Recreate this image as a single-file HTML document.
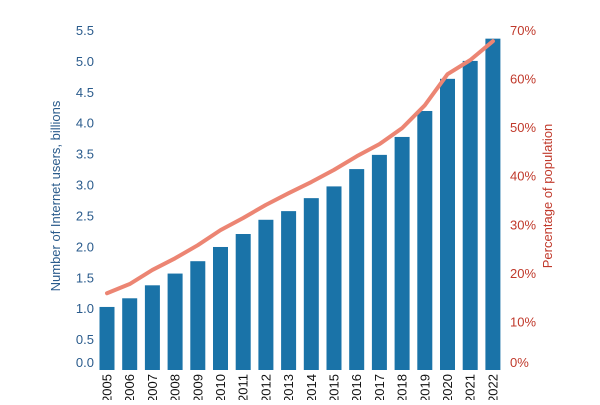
<!DOCTYPE html>
<html><head><meta charset="utf-8"><style>
body{margin:0;background:#fff}
svg text{font-family:"Liberation Sans",sans-serif}
</style></head><body>
<svg id="chart" width="600" height="400" viewBox="0 0 600 400"></svg>
<script>
const years=["2005","2006","2007","2008","2009","2010","2011","2012","2013","2014","2015","2016","2017","2018","2019","2020","2021","2022"];
const users=[1.02,1.16,1.37,1.56,1.76,1.99,2.2,2.43,2.57,2.78,2.97,3.25,3.48,3.77,4.19,4.71,5.0,5.36];
const pct=[15.8,17.7,20.6,23,25.7,28.8,31.3,34,36.4,38.7,41.2,44,46.5,49.8,54.5,60.9,63.8,67.7];
const leftTicks=["0.0","0.5","1.0","1.5","2.0","2.5","3.0","3.5","4.0","4.5","5.0","5.5"];
const rightTicks=["0%","10%","20%","30%","40%","50%","60%","70%"];
const svg=document.getElementById('chart');
const NS="http://www.w3.org/2000/svg";
const base=370,top0=30;
const yL=v=>base-(base-top0)*v/5.5;
const yR=v=>base-(base-top0)*v/70;
const xB=i=>107+i*22.7;
function mk(t,a,txt){const e=document.createElementNS(NS,t);for(const k in a)e.setAttribute(k,a[k]);if(txt!==undefined)e.textContent=txt;svg.appendChild(e);return e;}
years.forEach((y,i)=>{
 const h=base-yL(users[i]);
 const r=mk('rect',{x:xB(i)-7.5,y:yL(users[i]),width:15,height:h,fill:'#1a73a8'});
 
 
 const t=mk('text',{x:0,y:0,'font-size':13,fill:'#111','text-anchor':'end',transform:`translate(${xB(i)+4.5},374) rotate(-90)`},y);
 
 
});
leftTicks.forEach(s=>{
 const v=parseFloat(s);
 const t=mk('text',{x:94,y:Math.min(yL(v)+5,367),'font-size':13,fill:'#2a5b8c','text-anchor':'end'},s);
 
 
});
rightTicks.forEach(s=>{
 const v=parseFloat(s);
 const t=mk('text',{x:510,y:Math.min(yR(v)+5,367),'font-size':13,fill:'#c0392b'},s);
 
 
});
const pts=pct.map((p,i)=>xB(i)+','+yR(p)).join(' ');
const ln=mk('polyline',{points:pts,fill:'none',stroke:'#ec8573','stroke-width':4,'stroke-linejoin':'round','stroke-linecap':'round'});


const lt=mk('text',{x:0,y:0,'font-size':13,fill:'#2a5b8c','text-anchor':'middle',transform:'translate(60,196) rotate(-90)'},'Number of Internet users, billions');


const rt=mk('text',{x:0,y:0,'font-size':13,fill:'#c0392b','text-anchor':'middle',transform:'translate(552,196) rotate(-90)'},'Percentage of population');


</script>
</body></html>
